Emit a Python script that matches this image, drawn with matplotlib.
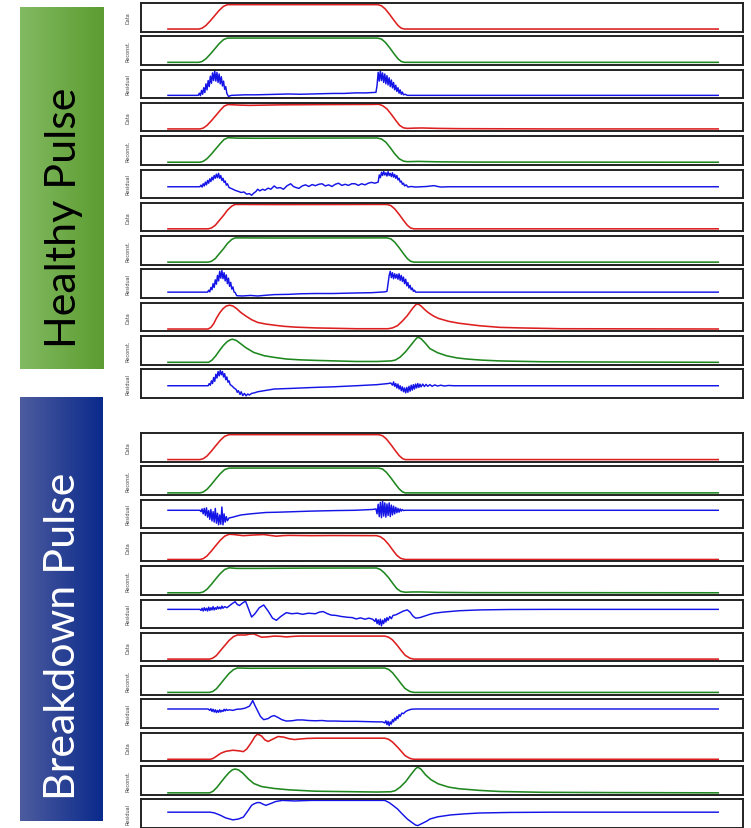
import numpy as np
import matplotlib
matplotlib.use("Agg")
import matplotlib.pyplot as plt
from matplotlib.colors import LinearSegmentedColormap

# ---------------- data (sample index 0..1000, normalised amplitude 0..1) -------------
row_labels = ["Data", "Reconst.", "Residual"]
group_titles = ["Healthy Pulse", "Breakdown Pulse"]

h1_data = [(0,0.07),(56,0.07),(62,0.1),(69,0.2),(77,0.37),(85,0.56),(93,0.75),(101,0.9),(108,0.96),(381,0.96),(388,0.92),(395,0.8),(403,0.6),(411,0.38),(418,0.2),(424,0.1),(430,0.07),(1000,0.07)]
h1_rec = [(0,0.07),(56,0.07),(62,0.1),(69,0.2),(77,0.37),(85,0.56),(93,0.75),(101,0.9),(108,0.955),(381,0.955),(388,0.92),(395,0.8),(403,0.6),(411,0.38),(418,0.2),(424,0.1),(430,0.07),(1000,0.07)]
h1_res = [(0,0.08),(55,0.08),(57,0.16),(59,0.07),(61,0.26),(63,0.12),(65,0.36),(67,0.18),(69,0.5),(71,0.28),(73,0.62),(75,0.4),(77,0.78),(79,0.52),(81,0.9),(83,0.62),(85,0.98),(87,0.6),(89,0.92),(91,0.55),(93,0.86),(95,0.5),(97,0.76),(99,0.42),(101,0.6),(103,0.3),(105,0.4),(107,0.15),(110,0.04),(115,0.08),(140,0.1),(160,0.1),(180,0.11),(200,0.12),(220,0.13),(240,0.12),(260,0.13),(280,0.14),(300,0.15),(320,0.15),(340,0.17),(360,0.17),(378,0.19),(380,0.45),(382,0.92),(384,0.6),(386,0.98),(388,0.62),(390,0.9),(392,0.55),(394,0.86),(396,0.5),(398,0.8),(400,0.46),(402,0.72),(404,0.4),(406,0.64),(408,0.35),(410,0.55),(412,0.28),(414,0.45),(416,0.22),(418,0.36),(420,0.16),(422,0.28),(424,0.12),(426,0.2),(428,0.1),(431,0.12),(435,0.08),(1000,0.08)]

h2_data = [(0,0.07),(58,0.07),(64,0.1),(71,0.2),(79,0.37),(87,0.56),(95,0.75),(102,0.9),(109,0.96),(130,0.94),(148,0.93),(208,0.95),(300,0.96),(372,0.965),(383,0.97),(390,0.92),(398,0.8),(406,0.6),(414,0.38),(421,0.2),(428,0.11),(435,0.09),(448,0.1),(462,0.105),(490,0.09),(529,0.08),(700,0.07),(1000,0.07)]
h2_rec = [(0,0.07),(58,0.07),(64,0.1),(71,0.2),(79,0.37),(87,0.56),(95,0.75),(102,0.9),(109,0.965),(125,0.95),(160,0.945),(250,0.95),(380,0.955),(388,0.92),(396,0.8),(404,0.6),(412,0.38),(420,0.2),(428,0.11),(435,0.09),(455,0.1),(490,0.085),(560,0.075),(1000,0.07)]
h2_res = [(0,0.39),(58,0.39),(60,0.45),(62,0.38),(64,0.5),(66,0.42),(68,0.56),(70,0.46),(72,0.62),(74,0.52),(76,0.68),(78,0.58),(80,0.74),(82,0.64),(84,0.8),(86,0.7),(88,0.85),(90,0.72),(92,0.88),(94,0.7),(96,0.8),(98,0.62),(100,0.7),(102,0.55),(104,0.6),(106,0.45),(108,0.5),(111,0.36),(116,0.32),(122,0.26),(128,0.22),(133,0.18),(138,0.2),(143,0.12),(148,0.14),(152,0.08),(156,0.16),(160,0.22),(163,0.3),(167,0.24),(172,0.3),(176,0.26),(182,0.34),(187,0.3),(193,0.42),(198,0.34),(204,0.36),(210,0.3),(216,0.42),(223,0.5),(228,0.4),(233,0.36),(238,0.33),(244,0.42),(250,0.46),(256,0.4),(262,0.47),(268,0.43),(274,0.48),(280,0.5),(286,0.42),(292,0.46),(298,0.4),(304,0.48),(310,0.52),(316,0.44),(322,0.48),(328,0.44),(334,0.5),(340,0.5),(346,0.44),(352,0.5),(358,0.46),(364,0.52),(370,0.55),(376,0.52),(382,0.56),(384,0.82),(386,0.72),(388,0.92),(390,0.8),(392,0.95),(394,0.82),(396,0.9),(398,0.78),(400,0.94),(402,0.8),(404,0.88),(406,0.76),(408,0.9),(410,0.74),(412,0.84),(414,0.7),(416,0.8),(418,0.64),(420,0.7),(422,0.56),(424,0.6),(426,0.48),(428,0.52),(430,0.42),(433,0.46),(436,0.38),(442,0.4),(450,0.38),(460,0.39),(470,0.4),(478,0.42),(484,0.43),(490,0.4),(496,0.38),(510,0.39),(1000,0.39)]

h3_data = [(0,0.07),(73,0.07),(79,0.1),(86,0.2),(93,0.37),(101,0.56),(108,0.75),(116,0.9),(122,0.96),(200,0.955),(398,0.96),(405,0.92),(412,0.8),(420,0.6),(428,0.38),(435,0.2),(441,0.1),(447,0.07),(1000,0.07)]
h3_rec = [(0,0.07),(73,0.07),(79,0.1),(86,0.2),(93,0.37),(101,0.56),(108,0.75),(116,0.9),(122,0.955),(200,0.95),(398,0.955),(405,0.92),(412,0.8),(420,0.6),(428,0.38),(435,0.2),(441,0.1),(447,0.07),(1000,0.07)]
h3_res = [(0,0.19),(72,0.19),(74,0.26),(76,0.2),(78,0.36),(80,0.28),(82,0.5),(84,0.36),(86,0.64),(88,0.48),(90,0.8),(92,0.6),(94,0.95),(96,0.7),(98,0.98),(100,0.68),(102,0.9),(104,0.6),(106,0.82),(108,0.5),(110,0.7),(112,0.4),(114,0.55),(116,0.3),(118,0.38),(120,0.2),(122,0.18),(125,0.06),(135,0.05),(150,0.07),(163,0.05),(180,0.08),(193,0.1),(220,0.11),(240,0.13),(267,0.14),(300,0.14),(342,0.16),(370,0.17),(394,0.2),(398,0.22),(400,0.5),(402,0.8),(404,0.95),(406,0.72),(408,0.9),(410,0.68),(412,0.86),(414,0.7),(416,0.84),(418,0.66),(420,0.86),(422,0.62),(424,0.8),(426,0.58),(428,0.74),(430,0.5),(432,0.66),(434,0.42),(436,0.54),(438,0.34),(440,0.44),(442,0.28),(444,0.34),(446,0.22),(448,0.26),(450,0.19),(1000,0.19)]

h4_data = [(0,0.06),(73,0.06),(78,0.12),(83,0.25),(88,0.45),(94,0.65),(100,0.8),(106,0.9),(112,0.93),(118,0.9),(125,0.8),(132,0.67),(141,0.54),(152,0.4),(163,0.3),(178,0.24),(193,0.2),(210,0.16),(230,0.13),(268,0.1),(342,0.07),(400,0.07),(408,0.1),(417,0.18),(426,0.35),(435,0.55),(444,0.8),(450,0.94),(454,0.98),(460,0.9),(467,0.76),(473,0.66),(482,0.54),(491,0.45),(510,0.34),(529,0.27),(566,0.18),(603,0.12),(640,0.1),(715,0.07),(1000,0.06)]
h4_rec = [(0,0.06),(74,0.06),(80,0.14),(87,0.3),(94,0.5),(101,0.68),(108,0.82),(114,0.89),(118,0.9),(124,0.86),(132,0.74),(141,0.6),(156,0.42),(175,0.3),(193,0.24),(215,0.18),(240,0.15),(268,0.13),(342,0.09),(380,0.09),(405,0.11),(413,0.14),(422,0.25),(432,0.45),(442,0.7),(450,0.9),(454,0.98),(460,0.92),(468,0.75),(476,0.56),(490,0.41),(506,0.3),(525,0.22),(543,0.18),(570,0.14),(603,0.11),(680,0.08),(800,0.07),(1000,0.06)]
h4_res = [(0,0.42),(73,0.42),(75,0.5),(77,0.44),(79,0.6),(81,0.5),(83,0.72),(85,0.58),(87,0.84),(89,0.7),(91,0.94),(93,0.78),(95,0.98),(97,0.82),(99,0.94),(101,0.74),(103,0.86),(105,0.64),(107,0.74),(109,0.55),(111,0.6),(113,0.46),(116,0.42),(120,0.34),(124,0.28),(126,0.18),(128,0.24),(131,0.1),(133,0.2),(136,0.06),(139,0.14),(142,0.05),(145,0.12),(148,0.08),(152,0.14),(157,0.16),(163,0.2),(175,0.24),(193,0.3),(220,0.32),(268,0.36),(300,0.38),(342,0.42),(380,0.46),(400,0.5),(405,0.52),(408,0.44),(410,0.56),(412,0.4),(414,0.5),(416,0.34),(418,0.48),(420,0.3),(422,0.42),(424,0.24),(426,0.38),(428,0.2),(430,0.34),(432,0.16),(434,0.36),(436,0.18),(438,0.4),(440,0.22),(442,0.44),(444,0.26),(446,0.46),(448,0.3),(450,0.48),(452,0.34),(454,0.5),(456,0.36),(458,0.48),(460,0.38),(463,0.48),(466,0.39),(469,0.47),(472,0.4),(476,0.46),(480,0.4),(485,0.45),(490,0.41),(496,0.44),(502,0.41),(510,0.43),(520,0.42),(1000,0.42)]

b1_data = [(0,0.05),(58,0.05),(64,0.08),(71,0.18),(79,0.36),(87,0.56),(95,0.75),(103,0.9),(111,0.96),(383,0.96),(390,0.92),(397,0.8),(405,0.6),(413,0.38),(420,0.2),(426,0.09),(431,0.05),(1000,0.05)]
b1_rec = [(0,0.05),(58,0.05),(64,0.08),(71,0.18),(79,0.36),(87,0.56),(95,0.75),(103,0.9),(111,0.955),(383,0.955),(390,0.92),(397,0.8),(405,0.6),(413,0.38),(420,0.2),(426,0.09),(431,0.05),(1000,0.05)]
b1_res = [(0,0.63),(58,0.63),(60,0.58),(62,0.68),(64,0.5),(66,0.7),(68,0.44),(70,0.72),(72,0.38),(74,0.62),(76,0.3),(78,0.66),(80,0.24),(82,0.58),(84,0.2),(86,0.7),(88,0.16),(90,0.52),(92,0.1),(94,0.46),(96,0.12),(98,0.75),(100,0.1),(102,0.5),(104,0.2),(106,0.4),(108,0.25),(111,0.35),(118,0.38),(125,0.42),(133,0.46),(150,0.5),(178,0.55),(200,0.56),(230,0.58),(260,0.6),(305,0.62),(340,0.63),(372,0.66),(378,0.68),(380,0.5),(382,0.85),(384,0.4),(386,0.92),(388,0.36),(390,0.98),(392,0.42),(394,0.9),(396,0.38),(398,0.86),(400,0.44),(402,0.9),(404,0.4),(406,0.82),(408,0.46),(410,0.78),(412,0.5),(414,0.74),(416,0.54),(418,0.7),(420,0.56),(422,0.68),(424,0.6),(426,0.66),(428,0.62),(431,0.63),(1000,0.63)]

b2_data = [(0,0.05),(58,0.05),(64,0.08),(71,0.18),(79,0.36),(87,0.56),(95,0.75),(103,0.9),(111,0.97),(120,0.96),(128,0.94),(137,0.92),(145,0.93),(152,0.94),(163,0.95),(174,0.96),(185,0.93),(197,0.9),(208,0.92),(220,0.93),(260,0.92),(300,0.925),(379,0.92),(386,0.88),(393,0.78),(401,0.6),(409,0.38),(416,0.2),(423,0.09),(431,0.05),(1000,0.05)]
b2_rec = [(0,0.05),(58,0.05),(64,0.08),(71,0.18),(79,0.36),(87,0.56),(95,0.75),(103,0.9),(111,0.96),(125,0.94),(160,0.94),(250,0.95),(379,0.955),(386,0.9),(393,0.78),(401,0.6),(409,0.38),(416,0.2),(423,0.1),(431,0.07),(445,0.08),(460,0.08),(490,0.065),(560,0.055),(1000,0.05)]
b2_res = [(0,0.66),(58,0.66),(60,0.62),(62,0.7),(64,0.6),(66,0.72),(68,0.62),(70,0.7),(72,0.6),(74,0.74),(76,0.62),(78,0.72),(80,0.64),(82,0.76),(84,0.64),(86,0.72),(88,0.66),(90,0.76),(92,0.68),(94,0.74),(96,0.68),(98,0.78),(100,0.7),(103,0.76),(107,0.72),(111,0.78),(116,0.86),(122,0.94),(126,0.84),(130,0.8),(136,0.9),(141,0.96),(146,0.7),(152,0.38),(158,0.5),(166,0.72),(174,0.82),(182,0.6),(190,0.34),(197,0.26),(205,0.4),(215,0.54),(225,0.5),(235,0.52),(245,0.48),(255,0.52),(268,0.5),(275,0.56),(282,0.58),(290,0.5),(297,0.45),(305,0.44),(315,0.4),(327,0.37),(335,0.36),(342,0.31),(350,0.35),(358,0.3),(365,0.34),(372,0.3),(376,0.22),(378,0.32),(380,0.14),(382,0.28),(384,0.1),(386,0.3),(388,0.06),(390,0.26),(392,0.14),(394,0.32),(396,0.2),(398,0.36),(400,0.26),(403,0.4),(406,0.32),(409,0.44),(414,0.46),(420,0.52),(428,0.6),(435,0.64),(440,0.56),(445,0.42),(450,0.34),(458,0.36),(467,0.42),(476,0.48),(484,0.52),(500,0.56),(529,0.61),(566,0.64),(620,0.655),(700,0.66),(1000,0.66)]

b3_data = [(0,0.06),(75,0.06),(81,0.09),(88,0.19),(95,0.36),(103,0.55),(111,0.74),(119,0.88),(126,0.94),(134,0.94),(141,0.94),(148,0.97),(156,0.98),(163,0.92),(170,0.86),(180,0.87),(193,0.9),(205,0.89),(215,0.87),(228,0.89),(238,0.9),(300,0.9),(394,0.9),(401,0.86),(408,0.76),(416,0.58),(424,0.37),(431,0.2),(440,0.09),(447,0.06),(1000,0.06)]
b3_rec = [(0,0.06),(75,0.06),(81,0.09),(88,0.19),(95,0.36),(103,0.56),(111,0.75),(119,0.89),(126,0.95),(150,0.94),(250,0.945),(394,0.95),(401,0.9),(408,0.78),(416,0.58),(424,0.37),(431,0.2),(440,0.09),(447,0.06),(1000,0.06)]
b3_res = [(0,0.67),(73,0.67),(76,0.62),(78,0.68),(80,0.58),(82,0.66),(84,0.56),(86,0.64),(88,0.54),(90,0.62),(92,0.55),(94,0.64),(96,0.56),(98,0.62),(100,0.58),(102,0.66),(104,0.6),(106,0.66),(108,0.62),(112,0.64),(118,0.62),(125,0.66),(133,0.67),(140,0.7),(148,0.77),(152,0.9),(154,0.98),(158,0.8),(163,0.6),(168,0.4),(174,0.28),(182,0.32),(188,0.4),(193,0.43),(200,0.36),(207,0.28),(215,0.23),(225,0.24),(235,0.27),(245,0.27),(255,0.25),(268,0.24),(280,0.25),(290,0.23),(305,0.23),(320,0.22),(342,0.22),(360,0.21),(380,0.2),(390,0.2),(394,0.16),(396,0.24),(398,0.1),(400,0.22),(402,0.06),(404,0.2),(406,0.12),(408,0.28),(410,0.2),(412,0.34),(414,0.26),(416,0.4),(418,0.32),(420,0.46),(422,0.4),(425,0.52),(428,0.5),(432,0.58),(436,0.62),(442,0.66),(450,0.67),(1000,0.67)]

b4_data = [(0,0.05),(77,0.05),(82,0.08),(88,0.16),(96,0.27),(105,0.34),(118,0.38),(128,0.36),(137,0.33),(143,0.42),(148,0.56),(152,0.68),(158,0.88),(163,0.97),(170,0.9),(176,0.76),(182,0.7),(190,0.78),(200,0.88),(210,0.86),(220,0.8),(230,0.77),(240,0.79),(252,0.81),(270,0.82),(300,0.82),(394,0.82),(401,0.78),(408,0.68),(416,0.52),(424,0.34),(431,0.18),(440,0.08),(447,0.05),(1000,0.05)]
b4_rec = [(0,0.04),(76,0.04),(82,0.1),(89,0.24),(96,0.42),(104,0.62),(111,0.78),(117,0.88),(122,0.91),(128,0.88),(136,0.76),(146,0.55),(156,0.38),(170,0.27),(193,0.2),(220,0.15),(268,0.1),(342,0.08),(380,0.07),(405,0.08),(413,0.12),(422,0.25),(432,0.45),(442,0.72),(450,0.92),(454,0.98),(460,0.9),(468,0.7),(478,0.52),(491,0.37),(510,0.25),(529,0.19),(566,0.13),(603,0.09),(680,0.06),(800,0.05),(1000,0.04)]
b4_res = [(0,0.55),(77,0.55),(85,0.52),(95,0.44),(105,0.34),(118,0.27),(128,0.3),(137,0.37),(146,0.62),(152,0.8),(156,0.85),(162,0.9),(167,0.9),(173,0.84),(178,0.8),(186,0.86),(196,0.94),(208,0.98),(230,0.96),(260,0.98),(300,0.98),(350,0.98),(394,0.98),(402,0.9),(410,0.78),(417,0.67),(425,0.5),(435,0.3),(443,0.18),(450,0.08),(454,0.06),(462,0.14),(470,0.22),(476,0.3),(490,0.38),(514,0.45),(540,0.49),(566,0.52),(620,0.54),(700,0.55),(1000,0.55)]

healthy_panels = [h1_data, h1_rec, h1_res, h2_data, h2_rec, h2_res,
                  h3_data, h3_rec, h3_res, h4_data, h4_rec, h4_res]
breakdown_panels = [b1_data, b1_rec, b1_res, b2_data, b2_rec, b2_res,
                    b3_data, b3_rec, b3_res, b4_data, b4_rec, b4_res]

# ---------------- styling -----------------
W, H = 751, 829
line_colors = ["#dd1f1f", "#1f871f", "#1414e6"]
line_widths = [1.15, 1.15, 1.05]

plt.rcParams['font.family'] = ['Lato', 'DejaVu Sans']
fig = plt.figure(figsize=(W / 100, H / 100), dpi=100)
fig.patch.set_facecolor("white")

def px_axes(x0, y0, x1, y1):
    return fig.add_axes([x0 / W, 1 - y1 / H, (x1 - x0) / W, (y1 - y0) / H])

ax_left, ax_right = 141, 743
pitch, height = 33.3, 28.5
group_tops = [4, 434]

for g, panels in enumerate([healthy_panels, breakdown_panels]):
    for i, pts in enumerate(panels):
        top = group_tops[g] + pitch * i
        ax = px_axes(ax_left, top, ax_right, top + height)
        xs = [p[0] for p in pts]
        ys = [p[1] for p in pts]
        k = i % 3
        ax.plot(xs, ys, color=line_colors[k], lw=line_widths[k], solid_joinstyle="round")
        ax.set_xlim(-49, 1045)
        ax.set_ylim(-0.02, 1.02)
        ax.set_xticks([])
        ax.set_yticks([])
        for sp in ax.spines.values():
            sp.set_linewidth(1.4)
            sp.set_color("#222222")
        fig.text(128 / W, 1 - (top + height / 2) / H, row_labels[k], rotation=90,
                 ha="center", va="center", fontsize=3.6, color="#444444",
                 family=["DejaVu Sans"])

# ---------------- side banners -----------------
def banner(x0, y0, x1, y1, c_left, c_right, text, tcolor, ty):
    bax = px_axes(x0, y0, x1, y1)
    cmap = LinearSegmentedColormap.from_list("b", [c_left, c_right])
    grad = np.linspace(0, 1, 256).reshape(1, -1)
    bax.imshow(grad, aspect="auto", cmap=cmap, extent=[0, 1, 0, 1])
    bax.set_xlim(0, 1)
    bax.set_ylim(0, 1)
    bax.axis("off")
    bax.text(0.52, 1 - (ty - y0) / (y1 - y0), text, rotation=90, ha="center", va="center",
             fontsize=31, color=tcolor, transform=bax.transAxes)

banner(20, 8, 104, 370, "#82ba62", "#5c9c30", group_titles[0], "black", 218)
banner(20, 398, 103, 822, "#4d5c9e", "#0a2a8c", group_titles[1], "white", 636)

fig.savefig("out.png", dpi=100, facecolor="white")
